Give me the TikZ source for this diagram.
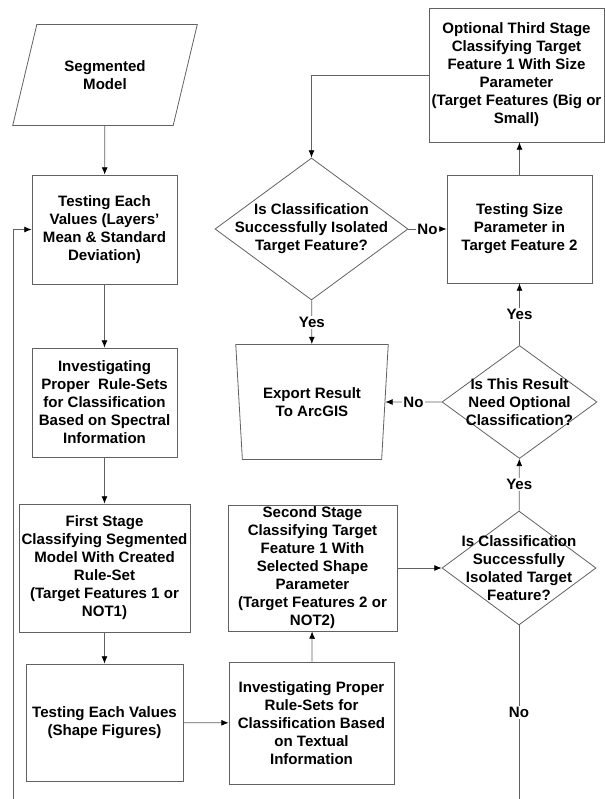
\documentclass[tikz,border=0pt]{standalone}
\usepackage{fontspec}
\setmainfont{Liberation Sans}
\usepackage{tikz}
\usetikzlibrary{shapes.geometric, arrows.meta}
\definecolor{linegray}{gray}{0.38}

\begin{document}
\begin{tikzpicture}[x=0.75pt, y=-0.75pt,
    every node/.style={font=\bfseries\fontsize{11.3}{13.5}\selectfont, align=center},
    box/.style={draw=linegray, line width=0.6pt, rectangle, inner xsep=0pt, inner ysep=1pt},
    decision/.style={draw=linegray, line width=0.6pt, diamond, inner sep=0pt},
    slanted/.style={draw=linegray, line width=0.6pt, trapezium, trapezium stretches=true, inner sep=0pt},
    flow/.style={draw=linegray, line width=0.6pt, -{Latex[length=5.5pt, width=4.5pt, color=black]}},
    answer/.style={fill=white, inner sep=1pt}]
    \useasboundingbox (0,0) rectangle (605,799);
    \node[slanted, trapezium left angle=63.7, trapezium right angle=116.3, minimum width=138.75pt, minimum height=75.75pt] (seg) at (105,75) {Segmented\\Model};
    \node[box, minimum width=108.75pt, minimum height=81.75pt] (test1) at (104.5,229.5) {Testing Each\\Values (Layers’\\Mean \& Standard\\Deviation)};
    \node[box, minimum width=108.75pt, minimum height=81.75pt] (rule1) at (104.5,402.5) {Investigating\\Proper\ \ Rule-Sets\\for Classification\\Based on Spectral\\Information};
    \node[box, minimum width=128.25pt, minimum height=96pt] (stage1) at (104.5,568) {First Stage\\Classifying Segmented\\Model With Created\\Rule-Set\\(Target Features 1 or\\NOT1)};
    \node[box, minimum width=117.75pt, minimum height=87.75pt] (test2) at (104.5,722.5) {Testing Each Values\\(Shape Figures)};
    \node[box, minimum width=123.75pt, minimum height=91.5pt] (rule2) at (311.5,723) {Investigating Proper\\Rule-Sets for\\Classification Based\\on Textual\\Information};
    \node[box, minimum width=126.75pt, minimum height=94.5pt] (stage2) at (312.5,568) {Second Stage\\Classifying Target\\Feature 1 With\\Selected Shape\\Parameter\\(Target Features 2 or\\NOT2)};
    \node[decision, minimum width=115.5pt, minimum height=85.5pt, label={[name=ask3]center:{Is Classification\\Successfully\\Isolated Target\\Feature?}}] (isol2) at (519,568) {};
    \node[decision, minimum width=116.25pt, minimum height=84.75pt, label={[name=ask2]center:{Is This Result\\Need Optional\\Classification?}}] (optq) at (519.5,402) {};
    \node[slanted, trapezium left angle=99.1, trapezium right angle=99.1, minimum width=114.75pt, minimum height=86.25pt] (export) at (312,402) {Export Result\\To ArcGIS};
    \node[box, minimum width=108.75pt, minimum height=81pt] (size) at (519.5,229) {Testing Size\\Parameter in\\Target Feature 2};
    \node[box, minimum width=131.25pt, minimum height=100.5pt] (stage3) at (516.5,75) {Optional Third Stage\\Classifying Target\\Feature 1 With Size\\Parameter\\(Target Features (Big or\\Small)};
    \node[decision, minimum width=144.75pt, minimum height=106.5pt, label={[name=ask1]center:{Is Classification\\Successfully Isolated\\Target Feature?}}] (isol1) at (311.5,229) {};
    \coordinate (loopend) at (519,799);
    \coordinate (loopstart) at (13,799);
    \draw[flow] (seg) -- (test1);
    \draw[flow] (test1) -- (rule1);
    \draw[flow] (rule1) -- (stage1);
    \draw[flow] (stage1) -- (test2);
    \draw[flow] (test2) -- (rule2);
    \draw[flow] (rule2) -- (stage2);
    \draw[flow] (stage2) -- (isol2);
    \draw[flow] (isol2) -- node[answer] (yes3) {Yes} (optq);
    \draw[flow] (optq) -- node[answer] (no2) {No} (export.east);
    \draw[flow] (optq) -- node[answer] (yes2) {Yes} (size);
    \draw[flow] (size.north) -- (size.north |- stage3.south);
    \draw[flow] (stage3.west) -| (isol1.north);
    \draw[flow] (isol1) -- node[answer] (no1) {No} (size);
    \draw[flow] (isol1) -- node[answer] (yes1) {Yes} (export);
    \draw[draw=linegray, line width=0.6pt] (isol2.south) -- node[answer] (no3) {No} (loopend);
    \draw[flow] (loopstart) |- (test1.west);
\end{tikzpicture}
\end{document}
